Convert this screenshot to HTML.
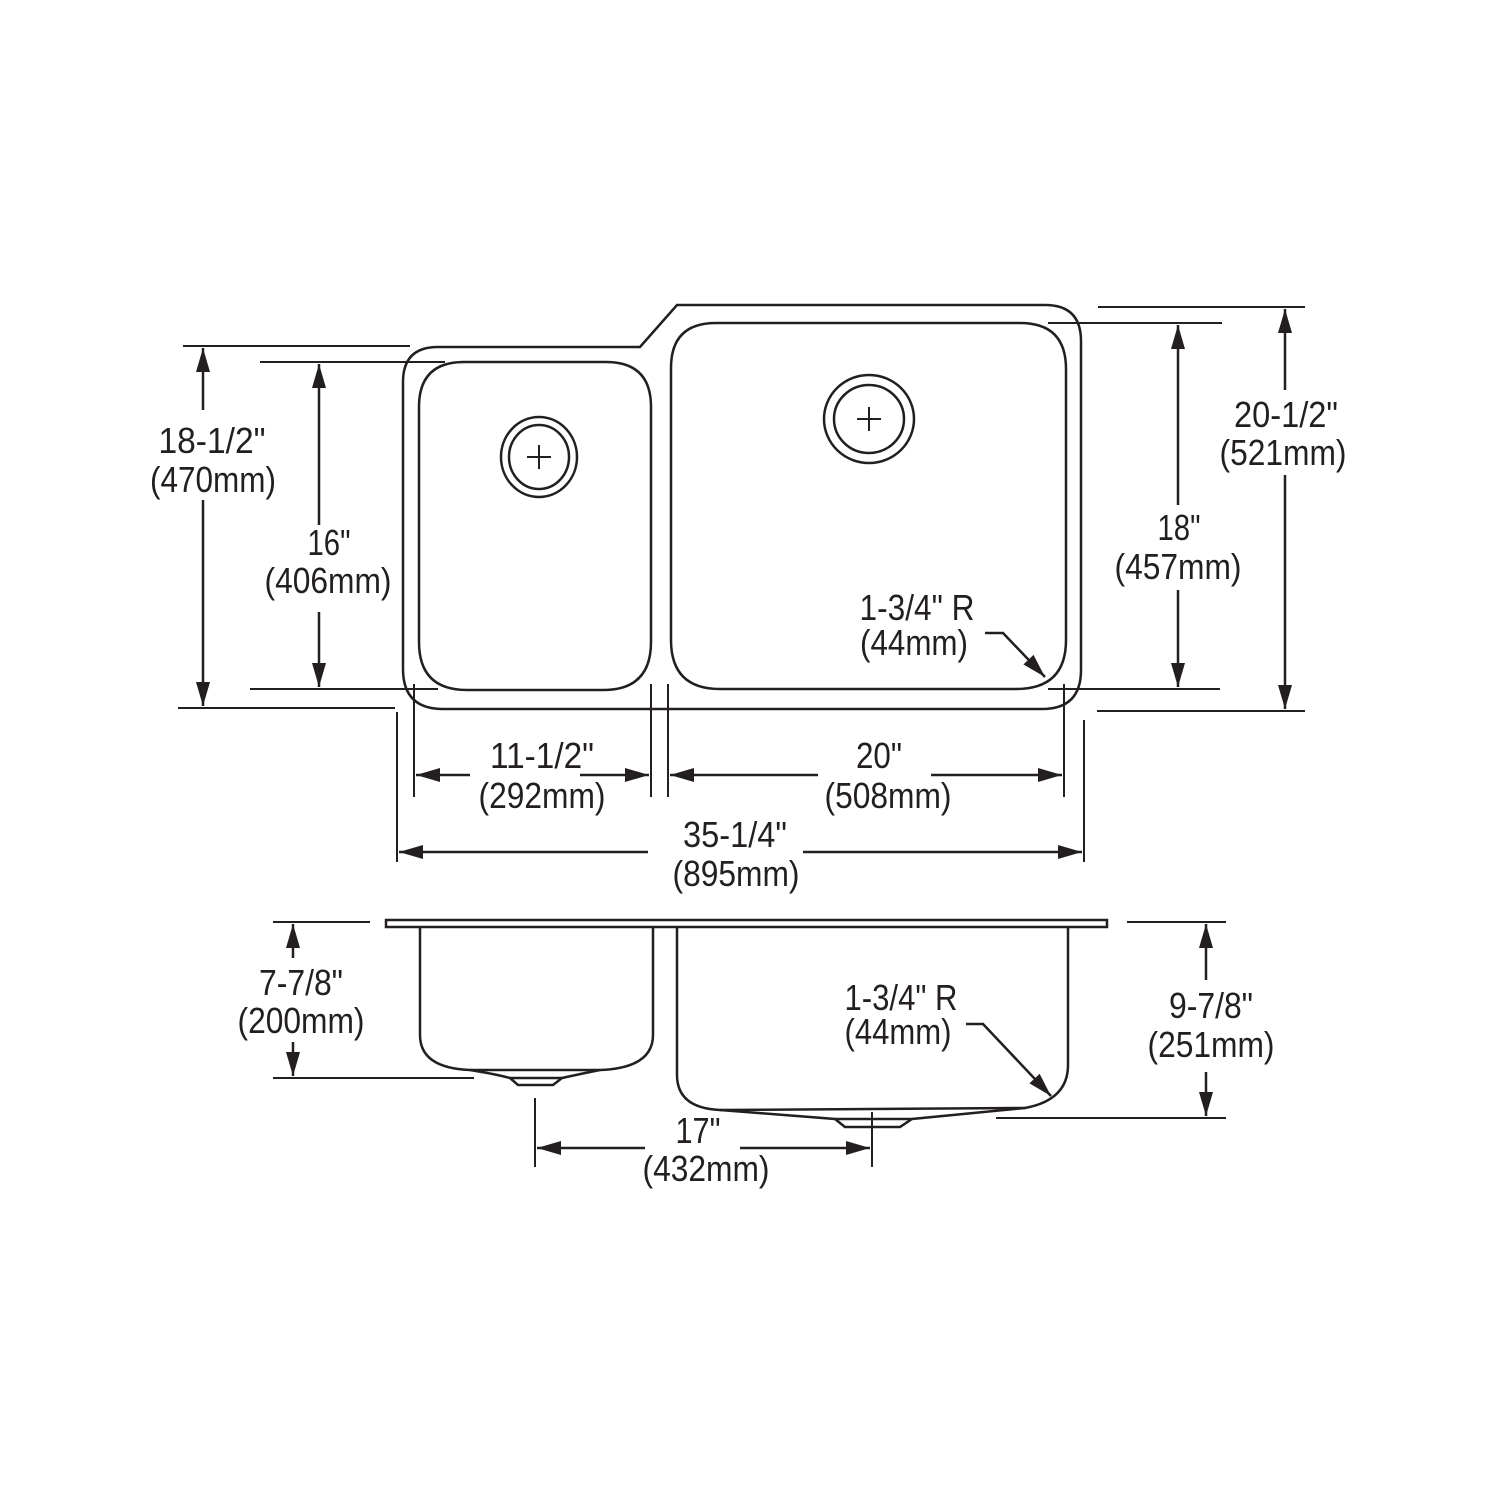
<!DOCTYPE html>
<html><head><meta charset="utf-8"><style>
html,body{margin:0;padding:0;background:#fff;}
svg{display:block;}
text{font-family:"Liberation Sans Narrow","Liberation Sans",sans-serif;font-size:36px;fill:#231f20;}
</style></head><body>
<svg width="1500" height="1500" viewBox="0 0 1500 1500" xmlns="http://www.w3.org/2000/svg">
<defs>
<marker id="a" viewBox="0 0 24 14" refX="24" refY="7" markerWidth="24" markerHeight="14" markerUnits="userSpaceOnUse" orient="auto"><path d="M0,0 L24,7 L0,14 Z" fill="#231f20"/></marker>
</defs>
<g fill="none" stroke="#231f20" stroke-width="2.5">
<path d="M438,347 L640,347 L677,305 L1045,305 Q1081,305 1081,341 L1081,670 Q1081,709 1042,709 L443,709 Q403,709 403,669 L403,382 Q403,347 438,347 Z"/>
<path d="M464,362 L606,362 Q651,362 651,407 L651,642 Q651,690 603,690 L467,690 Q419,690 419,642 L419,407 Q419,362 464,362 Z"/>
<path d="M716,323 L1020,323 Q1066,323 1066,369 L1066,640 Q1066,689 1016,689 L720,689 Q671,689 671,640 L671,368 Q671,323 716,323 Z"/>
<ellipse cx="539" cy="457" rx="38" ry="40"/><ellipse cx="539" cy="457" rx="30" ry="32"/>
<ellipse cx="869" cy="419" rx="45" ry="44"/><ellipse cx="869" cy="419" rx="35" ry="34"/>
</g>
<g stroke="#231f20" stroke-width="2">
<line x1="527" y1="457" x2="551" y2="457"/><line x1="539" y1="445" x2="539" y2="469"/>
<line x1="857" y1="419" x2="881" y2="419"/><line x1="869" y1="407" x2="869" y2="431"/>
<line x1="183" y1="346" x2="410" y2="346"/><line x1="178" y1="708" x2="395" y2="708"/>
<line x1="260" y1="362" x2="445" y2="362"/><line x1="250" y1="689" x2="438" y2="689"/>
<line x1="1048" y1="323" x2="1222" y2="323"/><line x1="1048" y1="689" x2="1220" y2="689"/>
<line x1="1098" y1="307" x2="1305" y2="307"/><line x1="1097" y1="711" x2="1305" y2="711"/>
<line x1="414" y1="684" x2="414" y2="797"/><line x1="651" y1="684" x2="651" y2="797"/>
<line x1="668" y1="684" x2="668" y2="797"/><line x1="1064" y1="684" x2="1064" y2="797"/>
<line x1="397" y1="712" x2="397" y2="862"/><line x1="1084" y1="720" x2="1084" y2="862"/>
</g>
<g stroke="#231f20" stroke-width="2.5" marker-end="url(#a)">
<line x1="203" y1="410" x2="203" y2="348"/><line x1="203" y1="500" x2="203" y2="706"/>
<line x1="319" y1="525" x2="319" y2="364"/><line x1="319" y1="612" x2="319" y2="687"/>
<line x1="1178" y1="505" x2="1178" y2="325"/><line x1="1178" y1="590" x2="1178" y2="687"/>
<line x1="1285" y1="390" x2="1285" y2="309"/><line x1="1285" y1="475" x2="1285" y2="709"/>
<line x1="470" y1="775" x2="416" y2="775"/><line x1="580" y1="775" x2="649" y2="775"/>
<line x1="818" y1="775" x2="670" y2="775"/><line x1="931" y1="775" x2="1062" y2="775"/>
<line x1="648" y1="852" x2="399" y2="852"/><line x1="803" y1="852" x2="1082" y2="852"/>
</g>
<path d="M985,633 L1003,633 L1045,677" fill="none" stroke="#231f20" stroke-width="2.5" marker-end="url(#a)"/>
<g text-anchor="middle">
<text x="212" y="453" textLength="107" lengthAdjust="spacingAndGlyphs">18-1/2"</text>
<text x="213" y="492" textLength="126" lengthAdjust="spacingAndGlyphs">(470mm)</text>
<text x="329" y="555" textLength="43" lengthAdjust="spacingAndGlyphs">16"</text>
<text x="328" y="593" textLength="127" lengthAdjust="spacingAndGlyphs">(406mm)</text>
<text x="1179" y="540" textLength="43" lengthAdjust="spacingAndGlyphs">18"</text>
<text x="1178" y="579" textLength="127" lengthAdjust="spacingAndGlyphs">(457mm)</text>
<text x="1286" y="427" textLength="104" lengthAdjust="spacingAndGlyphs">20-1/2"</text>
<text x="1283" y="465" textLength="127" lengthAdjust="spacingAndGlyphs">(521mm)</text>
<text x="542" y="768" textLength="104" lengthAdjust="spacingAndGlyphs">11-1/2"</text>
<text x="542" y="808" textLength="127" lengthAdjust="spacingAndGlyphs">(292mm)</text>
<text x="879" y="768" textLength="46" lengthAdjust="spacingAndGlyphs">20"</text>
<text x="888" y="808" textLength="127" lengthAdjust="spacingAndGlyphs">(508mm)</text>
<text x="735" y="847" textLength="104" lengthAdjust="spacingAndGlyphs">35-1/4"</text>
<text x="736" y="886" textLength="127" lengthAdjust="spacingAndGlyphs">(895mm)</text>
<text x="917" y="620" textLength="115" lengthAdjust="spacingAndGlyphs">1-3/4" R</text>
<text x="914" y="655" textLength="108" lengthAdjust="spacingAndGlyphs">(44mm)</text>
</g>
<g fill="none" stroke="#231f20" stroke-width="2.5">
<rect x="386" y="920" width="721" height="7"/>
<path d="M420,927 L420,1035 Q420,1068 470,1070 L600,1070 Q653,1068 653,1035 L653,927"/>
<path d="M470,1070 Q495,1074 510,1078 L518,1085 L553,1085 L562,1078 Q580,1074 600,1070"/>
<line x1="510" y1="1078" x2="562" y2="1078"/>
<path d="M677,927 L677,1075 Q677,1108 720,1110 L1025,1108 Q1068,1100 1068,1065 L1068,927"/>
<path d="M720,1110 L835,1119 L845,1127 L900,1127 L912,1119 L1025,1108"/>
<line x1="835" y1="1119" x2="912" y2="1119"/>
</g>
<g stroke="#231f20" stroke-width="2">
<line x1="273" y1="922" x2="370" y2="922"/><line x1="273" y1="1078" x2="474" y2="1078"/>
<line x1="1127" y1="922" x2="1226" y2="922"/><line x1="996" y1="1118" x2="1226" y2="1118"/>
<line x1="535" y1="1098" x2="535" y2="1167"/><line x1="872" y1="1112" x2="872" y2="1167"/>
</g>
<g stroke="#231f20" stroke-width="2.5" marker-end="url(#a)">
<line x1="293" y1="958" x2="293" y2="924"/><line x1="293" y1="1042" x2="293" y2="1076"/>
<line x1="1206" y1="980" x2="1206" y2="924"/><line x1="1206" y1="1072" x2="1206" y2="1116"/>
<line x1="645" y1="1148" x2="537" y2="1148"/><line x1="740" y1="1148" x2="870" y2="1148"/>
</g>
<path d="M966,1024 L983,1024 L1051,1096" fill="none" stroke="#231f20" stroke-width="2.5" marker-end="url(#a)"/>
<g text-anchor="middle">
<text x="301" y="995" textLength="84" lengthAdjust="spacingAndGlyphs">7-7/8"</text>
<text x="301" y="1033" textLength="127" lengthAdjust="spacingAndGlyphs">(200mm)</text>
<text x="1211" y="1018" textLength="84" lengthAdjust="spacingAndGlyphs">9-7/8"</text>
<text x="1211" y="1057" textLength="127" lengthAdjust="spacingAndGlyphs">(251mm)</text>
<text x="698" y="1143" textLength="45" lengthAdjust="spacingAndGlyphs">17"</text>
<text x="706" y="1181" textLength="127" lengthAdjust="spacingAndGlyphs">(432mm)</text>
<text x="901" y="1010" textLength="113" lengthAdjust="spacingAndGlyphs">1-3/4" R</text>
<text x="898" y="1044" textLength="107" lengthAdjust="spacingAndGlyphs">(44mm)</text>
</g>
</svg>
</body></html>
